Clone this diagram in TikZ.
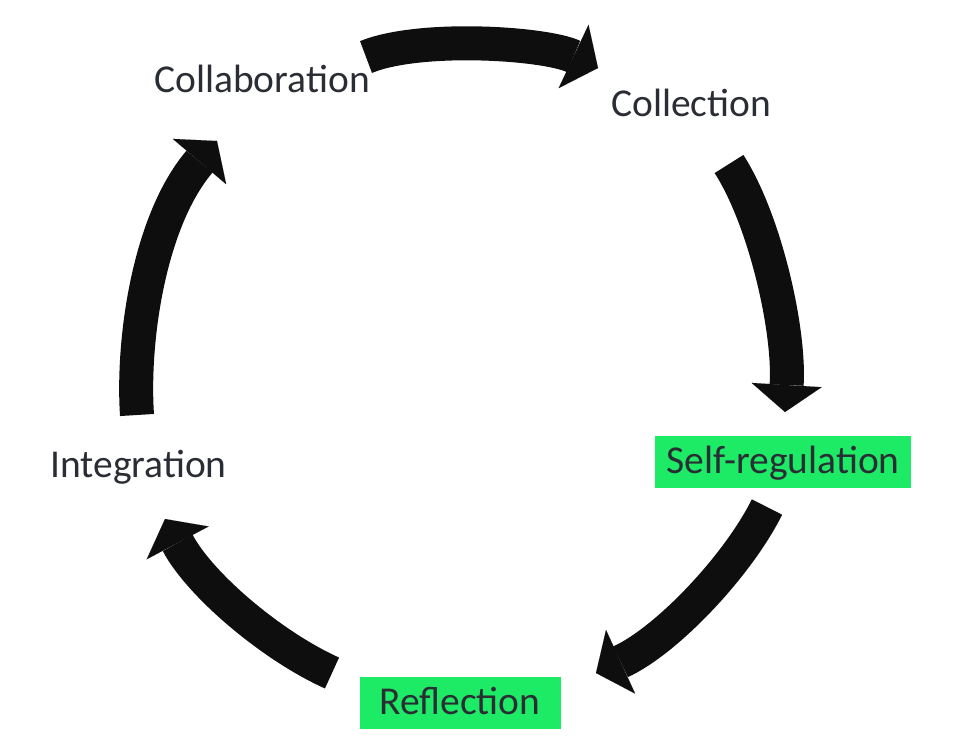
\documentclass[tikz,border=0pt]{standalone}
\usepackage{fontspec}
\setmainfont{Carlito}
\usetikzlibrary{arrows.meta}
\definecolor{txt}{HTML}{2B2D35}
\definecolor{grn}{HTML}{1DEB66}
\definecolor{arr}{HTML}{0E0E0E}
\begin{document}
\begin{tikzpicture}[x=1pt,y=-1pt,
  lbl/.style={text=txt, font=\fontsize{39.5}{47}\selectfont, inner sep=0pt},
  hl/.style={lbl, fill=grn, text height=37pt, text depth=15pt},
  bigarrow/.style={draw=arr, line width=34pt, -{Triangle[length=27pt,width=70pt,line width=0.01pt]}}]
\useasboundingbox (0,0) rectangle (966,745);
% labels
\node[lbl, anchor=base west] (collab) at (154,92) {Collaboration};
\node[lbl, anchor=base west] (collec) at (611,116) {Collection};
\node[hl, minimum width=256pt, anchor=base] (selfreg) at (783,473) {Self-regulation};
\node[hl, minimum width=201pt, anchor=base] (refl) at (460,714) {Reflection};
\node[lbl, anchor=base west] (integ) at (50,477) {Integration};
% arrow end points
\coordinate (a1s) at (366,57);  \coordinate (a1e) at (598,68);
\coordinate (a2s) at (729,164); \coordinate (a2e) at (785,412);
\coordinate (a3s) at (767,507); \coordinate (a3e) at (596,673);
\coordinate (a4s) at (332,673); \coordinate (a4e) at (165,519);
\coordinate (a5s) at (137,415); \coordinate (a5e) at (217,141);
% arrows
\draw[bigarrow] (a1s) .. controls (420,35) and (545,43) .. (a1e);
\draw[bigarrow] (a2s) .. controls (765,220) and (790,330) .. (a2e);
\draw[bigarrow] (a3s) .. controls (737,567) and (666,641) .. (a3e);
\draw[bigarrow] (a4s) .. controls (272,646) and (200,585) .. (a4e);
\draw[bigarrow] (a5s) .. controls (132,340) and (149,221) .. (a5e);
\end{tikzpicture}
\end{document}
